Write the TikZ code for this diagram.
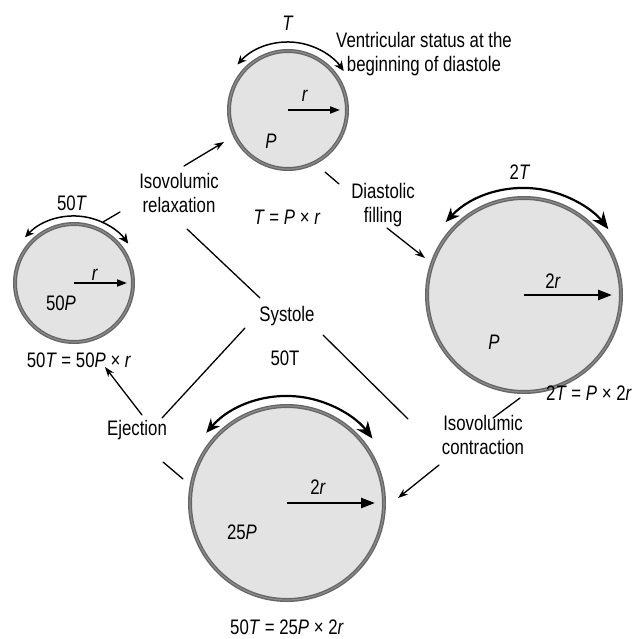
\documentclass[tikz,border=0pt]{standalone}
\usepackage{fontspec}
\setmainfont{Liberation Sans}[FakeStretch=0.8]
\usetikzlibrary{arrows.meta}
\definecolor{ringdark}{HTML}{666666}
\definecolor{ringlight}{HTML}{8C8C8C}
\definecolor{fillgray}{HTML}{E3E3E3}
\begin{document}
\begin{tikzpicture}[x=1pt,y=-1pt,
  vent/.style={circle, draw=ringdark, double=ringlight, double distance=1.2pt, line width=1.4pt, fill=fillgray, inner sep=0pt},
  lbl/.style={font=\fontsize{21}{23.5}\selectfont, align=center, inner sep=0pt},
  conn/.style={line width=1.3pt, line cap=round},
  arr/.style={conn, -{Stealth[length=10pt,width=7pt]}},
  radsmall/.style={line width=1.8pt, -{Triangle[length=10pt,width=7pt]}},
  radbig/.style={line width=2.4pt, -{Triangle[length=14pt,width=10pt]}},
  arcsmall/.style={line width=1.5pt, {Stealth[length=9pt,width=8pt]}-{Stealth[length=10pt,width=9pt]}},
  arcbig/.style={line width=2.2pt, {Stealth[length=14pt,width=12pt]}-{Stealth[length=17pt,width=14pt]}}
]
\useasboundingbox (0,0) rectangle (634,639);

% ventricles
\node[vent, minimum size=118pt] (c1) at (288,110) {};
\node[vent, minimum size=118pt] (c2) at (74,283) {};
\node[vent, minimum size=194pt] (c3) at (524,295) {};
\node[vent, minimum size=194pt] (c4) at (287,503) {};

% tension arcs
\draw[arcsmall] ([shift={(-138:68)}]c1.center) arc[start angle=-138, end angle=-35, radius=68];
\draw[arcsmall] ([shift={(-137:67)}]c2.center) arc[start angle=-137, end angle=-36, radius=67];
\draw[arcbig] ([shift={(-137:107)}]c3.center) arc[start angle=-137, end angle=-38, radius=107];
\draw[arcbig] ([shift={(-139:107)}]c4.center) arc[start angle=-139, end angle=-37, radius=107];

% radius arrows
\coordinate (r1) at (340,110);
\coordinate (r2) at (127,283);
\coordinate (r3) at (612,295);
\coordinate (r4) at (375,503);
\draw[radsmall] (c1.center) -- (r1);
\draw[radsmall] (c2.center) -- (r2);
\draw[radbig] (c3.center) -- (r3);
\draw[radbig] (c4.center) -- (r4);

% labels inside / around circles
\node[lbl] (t1) at (288,23) {\textit{T}};
\node[lbl] (vs) at (424,54) {Ventricular status at the\\beginning of diastole};
\node[lbl] (rr1) at (305,96) {\textit{r}};
\node[lbl] (p1) at (271,141) {\textit{P}};
\node[lbl] (eq1) at (287,217) {\textit{T} = \textit{P} × \textit{r}};

\node[lbl] (t2) at (72,203) {50\textit{T}};
\node[lbl] (rr2) at (95,275) {\textit{r}};
\node[lbl] (p2) at (61,303) {50\textit{P}};
\node[lbl] (eq2) at (79,360) {50\textit{T} = 50\textit{P} × \textit{r}};

\node[lbl] (t3) at (520,172) {2\textit{T}};
\node[lbl] (rr3) at (553,281) {2\textit{r}};
\node[lbl] (p3) at (494,342) {\textit{P}};
\node[lbl] (eq3) at (589,393) {2\textit{T} = \textit{P} × 2\textit{r}};

\node[lbl] (t4) at (285,358) {50T};
\node[lbl] (rr4) at (318,487) {2\textit{r}};
\node[lbl] (p4) at (242,532) {25\textit{P}};
\node[lbl] (eq4) at (287,627) {50\textit{T} = 25\textit{P} × 2\textit{r}};

% phase labels
\node[lbl] (relax) at (179,193) {Isovolumic\\relaxation};
\node[lbl] (fill) at (383,205) {Diastolic\\filling};
\node[lbl] (sys) at (287,316) {Systole};
\node[lbl] (ej) at (137,430) {Ejection};
\node[lbl] (contr) at (483,435) {Isovolumic\\contraction};

% connector end points
\coordinate (a1s) at (184,166); \coordinate (a1e) at (224,142);
\coordinate (l2s) at (103,222); \coordinate (l2e) at (120,212);
\coordinate (l3s) at (187,229); \coordinate (l3e) at (260,298);
\coordinate (l4s) at (245,328); \coordinate (l4e) at (162,418);
\coordinate (l5s) at (323,335); \coordinate (l5e) at (408,419);
\coordinate (a6s) at (142,415); \coordinate (a6e) at (105,367);
\coordinate (l7s) at (163,462); \coordinate (l7e) at (183,479);
\coordinate (l8s) at (325,172); \coordinate (l8e) at (339,184);
\coordinate (a9s) at (387,228); \coordinate (a9e) at (425,258);
\coordinate (l10s) at (520,398); \coordinate (l10e) at (493,418);
\coordinate (a11s) at (439,465); \coordinate (a11e) at (398,498);

\draw[arr] (a1s) -- (a1e);
\draw[conn] (l2s) -- (l2e);
\draw[conn] (l3s) -- (l3e);
\draw[conn] (l4s) -- (l4e);
\draw[conn] (l5s) -- (l5e);
\draw[arr] (a6s) -- (a6e);
\draw[conn] (l7s) -- (l7e);
\draw[conn] (l8s) -- (l8e);
\draw[arr] (a9s) -- (a9e);
\draw[conn] (l10s) -- (l10e);
\draw[arr] (a11s) -- (a11e);
\end{tikzpicture}
\end{document}
